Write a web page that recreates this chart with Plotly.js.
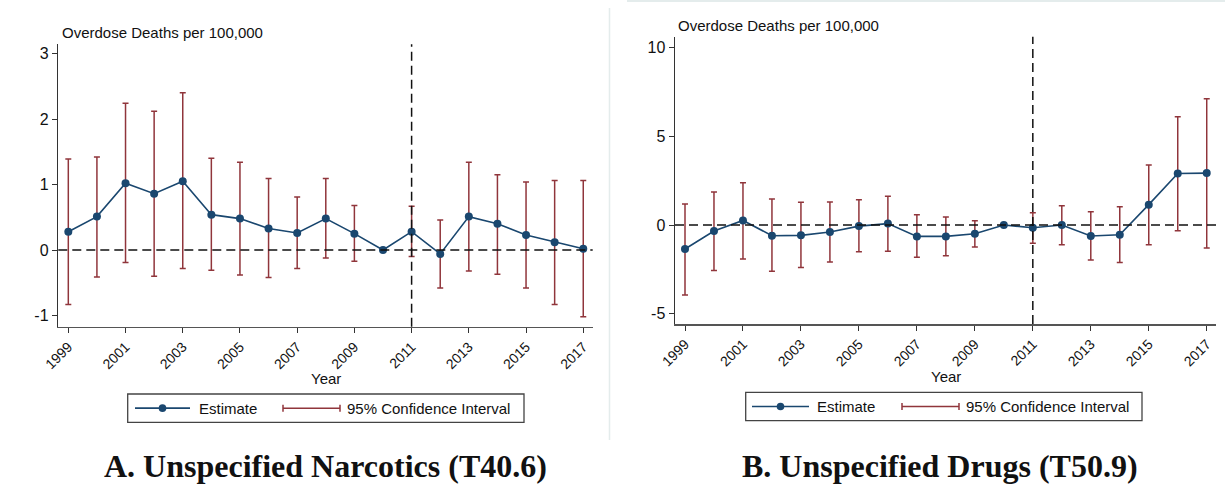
<!DOCTYPE html>
<html>
<head>
<meta charset="utf-8">
<script src="https://cdn.plot.ly/plotly-3.0.1.min.js"></script>
<style>html,body{margin:0;padding:0;background:#fff;}#chart{width:1225px;height:486px;}</style>
</head>
<body>
<div id="chart"></div>
<script>
// ---- data ----
const years = [1999,2000,2001,2002,2003,2004,2005,2006,2007,2008,2009,2010,2011,2012,2013,2014,2015,2016,2017];
const tickYears = [1999,2001,2003,2005,2007,2009,2011,2013,2015,2017];
const tickLabels = ["1999","2001","2003","2005","2007","2009","2011","2013","2015","2017"];

// Panel A: Unspecified Narcotics (T40.6)
const estA   = [0.28,0.51,1.02,0.86,1.05,0.54,0.48,0.33,0.26,0.48,0.25,0.00,0.28,-0.06,0.51,0.40,0.23,0.12,0.02];
const ciHiA  = [1.39,1.42,2.24,2.12,2.40,1.40,1.34,1.09,0.81,1.09,0.68,0.00,0.67,0.46,1.34,1.15,1.04,1.06,1.06];
const ciLoA  = [-0.83,-0.41,-0.19,-0.40,-0.28,-0.31,-0.38,-0.42,-0.28,-0.12,-0.17,0.00,-0.10,-0.58,-0.32,-0.37,-0.58,-0.83,-1.02];

// Panel B: Unspecified Drugs (T50.9)
const estB   = [-1.35,-0.34,0.26,-0.60,-0.58,-0.39,-0.06,0.08,-0.64,-0.64,-0.49,0.00,-0.15,0.00,-0.62,-0.55,1.15,2.91,2.93];
const ciHiB  = [1.18,1.86,2.39,1.47,1.28,1.30,1.43,1.62,0.58,0.45,0.24,0.00,0.70,1.09,0.75,1.03,3.38,6.11,7.12];
const ciLoB  = [-3.95,-2.56,-1.92,-2.61,-2.39,-2.09,-1.50,-1.48,-1.82,-1.73,-1.24,0.00,-1.02,-1.11,-1.97,-2.11,-1.11,-0.32,-1.30];

const yTicksA = [-1,0,1,2,3];
const yTickLabelsA = ["-1","0","1","2","3"];
const yTicksB = [-5,0,5,10];
const yTickLabelsB = ["-5","0","5","10"];
const treatYear = 2011;

const titleA = "A. Unspecified Narcotics (T40.6)";
const titleB = "B. Unspecified Drugs (T50.9)";
const yLabel = "Overdose Deaths per 100,000";
const xLabel = "Year";
const legEst = "Estimate";
const legCI = "95% Confidence Interval";

// ---- styling ----
const W = 1225, H = 486;
const NAVY = "#1a476f", MAROON = "#90353b";
const px = x => x / W;
const py = y => 1 - y / H;
const FONT = "Liberation Sans, Arial, sans-serif";
const FS = 15;

function ciTrace(est, hi, lo, xa, ya) {
  return {
    x: years, y: est, xaxis: xa, yaxis: ya, type: "scatter", mode: "markers",
    marker: {size: 0.1, color: "rgba(0,0,0,0)"},
    error_y: {type: "data", symmetric: false,
      array: hi.map((h, i) => h - est[i]),
      arrayminus: lo.map((l, i) => est[i] - l),
      color: MAROON, thickness: 1.5, width: 3},
    showlegend: false, hoverinfo: "skip"
  };
}
function estTrace(est, xa, ya) {
  return {
    x: years, y: est, xaxis: xa, yaxis: ya, type: "scatter", mode: "lines+markers",
    line: {color: NAVY, width: 1.6}, marker: {color: NAVY, size: 8},
    showlegend: false
  };
}

const data = [
  ciTrace(estA, ciHiA, ciLoA, "x", "y"),
  estTrace(estA, "x", "y"),
  ciTrace(estB, ciHiB, ciLoB, "x2", "y2"),
  estTrace(estB, "x2", "y2")
];

function xAxis(domain, anchor, range) {
  return {domain: domain, anchor: anchor, range: range,
    tickmode: "array", tickvals: tickYears, ticktext: tickLabels, tickangle: -45,
    ticks: "outside", ticklen: 5, tickwidth: 1, tickcolor: "#333",
    showline: true, linecolor: "#555", linewidth: 1.5, showgrid: false, zeroline: false,
    tickfont: {family: FONT, size: 14, color: "#111"}};
}
function yAxis(domain, anchor, range, vals, labels) {
  return {domain: domain, anchor: anchor, range: range,
    tickmode: "array", tickvals: vals, ticktext: labels, ticks: "outside", ticklen: 5, tickwidth: 1, tickcolor: "#333",
    showline: true, linecolor: "#333", linewidth: 1.5, showgrid: false, zeroline: false,
    tickfont: {family: FONT, size: FS + 1, color: "#111"}};
}

const dashLine = {color: "#111", width: 1.5, dash: "9px,5px"};
const shapes = [
  {type: "line", xref: "x domain", yref: "y", x0: 0, x1: 1, y0: 0, y1: 0, line: dashLine},
  {type: "line", xref: "x", yref: "y domain", x0: treatYear, x1: treatYear, y0: 0, y1: 1, line: dashLine},
  {type: "line", xref: "x2 domain", yref: "y2", x0: 0, x1: 1, y0: 0, y1: 0, line: dashLine},
  {type: "line", xref: "x2", yref: "y2 domain", x0: treatYear, x1: treatYear, y0: 0, y1: 1, line: dashLine},
  // panel separators
  {type: "line", xref: "paper", yref: "paper", x0: px(609.5), x1: px(609.5), y0: py(8), y1: py(440), line: {color: "#e4ecec", width: 1.5}},
  {type: "line", xref: "paper", yref: "paper", x0: px(627), x1: 1, y0: py(1), y1: py(1), line: {color: "#e4ecec", width: 2}}
];
const annotations = [];

function legend(bx0, by0, bx1, by1, estX0, estX1, estTextX, ciX0, ciX1, ciTextX) {
  const cy = (by0 + by1) / 2;
  shapes.push({type: "rect", xref: "paper", yref: "paper", x0: px(bx0), x1: px(bx1), y0: py(by1), y1: py(by0),
    line: {color: "#444", width: 1.3}, fillcolor: "rgba(0,0,0,0)"});
  shapes.push({type: "line", xref: "paper", yref: "paper", x0: px(estX0), x1: px(estX1), y0: py(cy), y1: py(cy), line: {color: NAVY, width: 1.6}});
  const mx = (estX0 + estX1) / 2;
  shapes.push({type: "circle", xref: "paper", yref: "paper", x0: px(mx - 3.8), x1: px(mx + 3.8), y0: py(cy + 3.8), y1: py(cy - 3.8),
    line: {color: NAVY, width: 0}, fillcolor: NAVY});
  shapes.push({type: "line", xref: "paper", yref: "paper", x0: px(ciX0), x1: px(ciX1), y0: py(cy), y1: py(cy), line: {color: MAROON, width: 1.5}});
  shapes.push({type: "line", xref: "paper", yref: "paper", x0: px(ciX0), x1: px(ciX0), y0: py(cy - 3.5), y1: py(cy + 3.5), line: {color: MAROON, width: 1.5}});
  shapes.push({type: "line", xref: "paper", yref: "paper", x0: px(ciX1), x1: px(ciX1), y0: py(cy - 3.5), y1: py(cy + 3.5), line: {color: MAROON, width: 1.5}});
  annotations.push({xref: "paper", yref: "paper", x: px(estTextX), y: py(cy), xanchor: "left", yanchor: "middle",
    text: legEst, showarrow: false, font: {family: FONT, size: FS, color: "#111"}});
  annotations.push({xref: "paper", yref: "paper", x: px(ciTextX), y: py(cy), xanchor: "left", yanchor: "middle",
    text: legCI, showarrow: false, font: {family: FONT, size: FS, color: "#111"}});
}
legend(127.7, 394, 524, 422.3, 135, 190, 197, 283, 340, 345);
legend(745.7, 392.3, 1142, 420.7, 752, 809, 815, 902, 959, 964);

// axis titles & panel titles
annotations.push({xref: "paper", yref: "paper", x: px(60), y: py(33), xanchor: "left", yanchor: "middle", text: yLabel, showarrow: false, font: {family: FONT, size: FS, color: "#111"}});
annotations.push({xref: "paper", yref: "paper", x: px(676), y: py(26), xanchor: "left", yanchor: "middle", text: yLabel, showarrow: false, font: {family: FONT, size: FS, color: "#111"}});
annotations.push({xref: "paper", yref: "paper", x: px(325.5), y: py(378), xanchor: "center", yanchor: "middle", text: xLabel, showarrow: false, font: {family: FONT, size: FS, color: "#111"}});
annotations.push({xref: "paper", yref: "paper", x: px(945.5), y: py(376), xanchor: "center", yanchor: "middle", text: xLabel, showarrow: false, font: {family: FONT, size: FS, color: "#111"}});
annotations.push({xref: "paper", yref: "paper", x: px(325.5), y: py(466), xanchor: "center", yanchor: "middle", text: "<b>" + titleA + "</b>", showarrow: false, font: {family: "Liberation Serif, serif", size: 32, color: "#111"}});
annotations.push({xref: "paper", yref: "paper", x: px(940), y: py(466), xanchor: "center", yanchor: "middle", text: "<b>" + titleB + "</b>", showarrow: false, font: {family: "Liberation Serif, serif", size: 32, color: "#111"}});

const layout = {
  width: W, height: H, margin: {l: 0, r: 0, t: 0, b: 0},
  paper_bgcolor: "#fff", plot_bgcolor: "#fff", showlegend: false,
  xaxis: xAxis([px(58.3), px(592.7)], "y", [1998.65, 2017.33]),
  yaxis: yAxis([py(326.7), py(44.3)], "x", [-1.17, 3.14], yTicksA, yTickLabelsA),
  xaxis2: xAxis([px(675), px(1216)], "y2", [1998.655, 2017.32]),
  yaxis2: yAxis([py(324), py(36.7)], "x2", [-5.58, 10.62], yTicksB, yTickLabelsB),
  shapes: shapes, annotations: annotations
};
Plotly.newPlot("chart", data, layout, {staticPlot: true, displayModeBar: false});
</script>
</body>
</html>
